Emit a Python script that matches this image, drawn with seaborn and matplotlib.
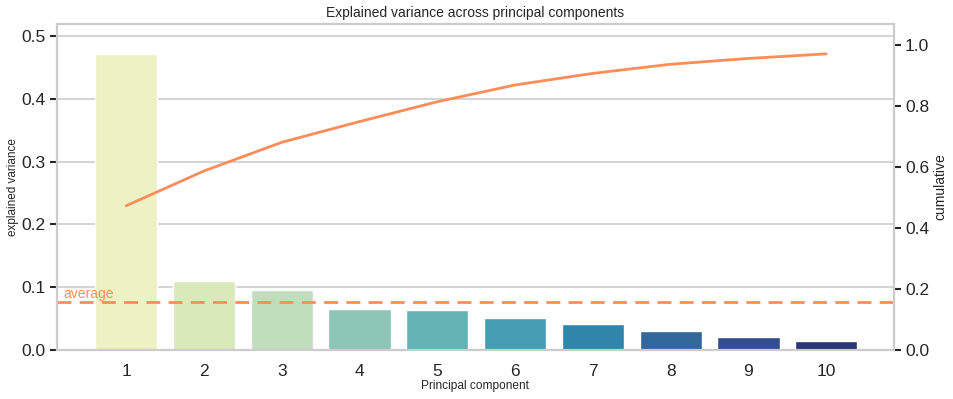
import numpy as np
import pandas as pd
import matplotlib
matplotlib.use("Agg")
import matplotlib.pyplot as plt
import seaborn as sns

# ---- data ----
components = ["1", "2", "3", "4", "5", "6", "7", "8", "9", "10"]
explained = [0.472, 0.110, 0.095, 0.065, 0.063, 0.051, 0.041, 0.030, 0.020, 0.015]
cumulative = [0.473, 0.587, 0.681, 0.749, 0.814, 0.869, 0.907, 0.937, 0.956, 0.971]
average = 1 / 13

sns.set_theme(style="whitegrid")
plt.rcParams["font.family"] = ["Liberation Sans", "DejaVu Sans"]

orange = "#fc8d59"
spine_c = "#cccccc"
dark = "#262626"

df = pd.DataFrame({"component": components, "explained": explained,
                   "pos": np.arange(len(components)), "cumulative": cumulative})

fig = plt.figure(figsize=(9.54, 3.99), dpi=100)
ax = fig.add_axes([0.0597, 0.1228, 0.8773, 0.8171])

sns.barplot(data=df, x="component", y="explained", hue="component",
            palette="YlGnBu", legend=False, ax=ax, width=0.8,
            edgecolor="white", linewidth=1)
ax.axhline(average, color=orange, linestyle="--", linewidth=2, dashes=(5, 3))
ax.text(-0.81, average + 0.001, "average", color=orange, fontsize=10,
        ha="left", va="bottom")

ax.set_xlim(-0.89, 9.87)
ax.set_ylim(0, 0.519)
ax.set_yticks([0.0, 0.1, 0.2, 0.3, 0.4, 0.5])
ax.grid(axis="x", visible=False)
ax.grid(axis="y", color="#d4d4d4", linewidth=1.4)
ax.set_xlabel("Principal component", fontsize=8.6, color=dark, labelpad=1)
ax.set_ylabel("explained variance", fontsize=8.5, color=dark, labelpad=2)
ax.set_title("Explained variance across principal components", fontsize=10, color=dark, pad=5)
ax.tick_params(axis="y", left=True, length=5, width=1.5, color=dark,
               labelsize=12.5, labelcolor=dark, pad=3)
ax.tick_params(axis="x", bottom=False, labelsize=12.5, labelcolor=dark, pad=4)

ax2 = ax.twinx()
sns.lineplot(data=df, x="pos", y="cumulative", ax=ax2, color=orange, linewidth=2)
ax2.set_ylim(0, 1.069)
ax2.set_yticks([0.0, 0.2, 0.4, 0.6, 0.8, 1.0])
ax2.grid(False)
ax2.set_ylabel("cumulative", fontsize=10, color=dark, labelpad=3)
ax2.tick_params(axis="y", right=True, length=5, width=1.5, color=dark,
                labelsize=12.5, labelcolor=dark, pad=3)
ax.set_xlim(-0.89, 9.87)

for a in (ax, ax2):
    for s in a.spines.values():
        s.set_color(spine_c)
        s.set_linewidth(1.5)

fig.savefig("out.png", dpi=100)
